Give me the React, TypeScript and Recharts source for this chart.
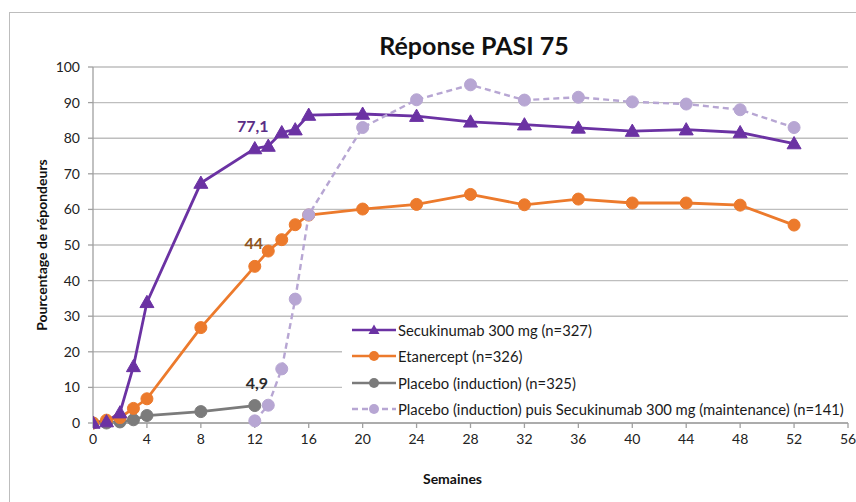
import React from "react";
import {
  LineChart,
  Line,
  XAxis,
  YAxis,
  CartesianGrid,
} from "recharts";

const weeksMain = [0, 1, 2, 3, 4, 8, 12, 13, 14, 15, 16, 20, 24, 28, 32, 36, 40, 44, 48, 52];
const secukinumab = [0, 0.4, 2.9, 15.9, 33.9, 67.4, 77.1, 77.8, 81.6, 82.4, 86.5, 86.8, 86.2, 84.6, 83.8, 82.9, 82.0, 82.4, 81.6, 78.5];
const etanercept = [0, 0.8, 1.5, 4.1, 6.8, 26.8, 44, 48.3, 51.5, 55.7, 58.4, 60.1, 61.4, 64.2, 61.3, 62.9, 61.8, 61.8, 61.2, 55.6];
const weeksPlacebo = [0, 1, 2, 3, 4, 8, 12];
const placebo = [0, 0, 0.3, 0.9, 2.1, 3.2, 4.9];
const weeksMaint = [12, 13, 14, 15, 16, 20, 24, 28, 32, 36, 40, 44, 48, 52];
const maintenance = [0.6, 5, 15.2, 34.8, 58.5, 83, 90.8, 95, 90.7, 91.5, 90.2, 89.6, 88, 83];

const xTicks = [0, 4, 8, 12, 16, 20, 24, 28, 32, 36, 40, 44, 48, 52, 56];
const yTicks = [0, 10, 20, 30, 40, 50, 60, 70, 80, 90, 100];
const labelWeek = 12;

const seriesNames = [
  "Secukinumab 300 mg (n=327)",
  "Etanercept (n=326)",
  "Placebo (induction) (n=325)",
  "Placebo (induction) puis Secukinumab 300 mg (maintenance) (n=141)",
];

const toRows = (weeks: number[], vals: number[]) =>
  weeks.map((w, i) => ({ week: w, value: vals[i] }));

const secuData = toRows(weeksMain, secukinumab);
const etaData = toRows(weeksMain, etanercept);
const placeboData = toRows(weeksPlacebo, placebo);
const maintData = toRows(weeksMaint, maintenance);

const PURPLE = "#6B32A3";
const ORANGE = "#EC7A2C";
const GREY = "#7B7B7B";
const LAVENDER = "#B7A6D3";
const FONT = "Lato, 'Open Sans', sans-serif";

const Triangle = (props: any) => {
  const { cx, cy, fill } = props;
  if (cx == null || cy == null) return null;
  const s = 7;
  return (
    <polygon
      points={`${cx},${cy - s} ${cx - s},${cy + s * 0.75} ${cx + s},${cy + s * 0.75}`}
      fill={fill}
      stroke={fill}
      strokeWidth={1}
    />
  );
};

const makeLabel = (data: { week: number; value: number }[], color: string, dx: number) => (props: any) => {
  const { x, y, index } = props;
  if (data[index] == null || data[index].week !== labelWeek) return null;
  return (
    <text
      x={x + dx}
      y={y - 17}
      textAnchor="middle"
      fill={color}
      fontFamily={FONT}
      fontWeight={700}
      fontSize={16}
    >
      {String(data[index].value).replace(".", ",")}
    </text>
  );
};

const legendItems = [
  { name: seriesNames[0], color: PURPLE, marker: "tri", dash: false },
  { name: seriesNames[1], color: ORANGE, marker: "circle", dash: false },
  { name: seriesNames[2], color: GREY, marker: "circle", dash: false },
  { name: seriesNames[3], color: LAVENDER, marker: "circle", dash: true },
];

const LegendBox = () => (
  <div
    style={{
      position: "absolute",
      left: 342,
      top: 317,
      width: 506,
      height: 101,
      background: "#fff",
    }}
  >
    {legendItems.map((it) => (
      <div
        key={it.name}
        style={{ height: 26.3, display: "flex", alignItems: "center" }}
      >
        <svg width={56} height={26} style={{ display: "block", flex: "none" }}>
          <line
            x1={10}
            x2={54}
            y1={13}
            y2={13}
            stroke={it.color}
            strokeWidth={2.5}
            strokeDasharray={it.dash ? "6 4" : undefined}
          />
          {it.marker === "tri" ? (
            <polygon points="32,7.5 26.5,17 37.5,17" fill={it.color} />
          ) : (
            <circle cx={32} cy={13} r={5} fill={it.color} />
          )}
        </svg>
        <span
          style={{
            fontFamily: FONT,
            fontSize: 14.8,
            color: "#1a1a1a",
            whiteSpace: "nowrap",
          }}
        >
          {it.name}
        </span>
      </div>
    ))}
  </div>
);

export default function App() {
  return (
    <div
      style={{
        position: "absolute",
        left: 0,
        top: 0,
        width: 856,
        height: 502,
        overflow: "hidden",
        background: "#fff",
      }}
    >
      <div
        style={{
          position: "absolute",
          left: 9,
          top: 12,
          width: 900,
          height: 600,
          border: "1.5px solid #BDBDBD",
        }}
      />
      <div style={{ position: "absolute", left: 0, top: 0 }}>
        <LineChart
          width={856}
          height={502}
          margin={{ top: 67, right: 8, bottom: 49, left: 33 }}
        >
          <CartesianGrid
            horizontal={true}
            vertical={false}
            stroke="#BEBEBE"
            strokeWidth={1.4}
          />
          <XAxis
            type="number"
            dataKey="week"
            domain={[0, 56]}
            ticks={xTicks}
            allowDataOverflow
            height={30}
            stroke="#A0A0A0"
            strokeWidth={1.3}
            tickSize={5}
            tick={{ fill: "#222", fontSize: 14, fontFamily: FONT }}
            tickMargin={6}
            label={{
              value: "Semaines",
              position: "insideBottom",
              offset: -31,
              dx: -18,
              style: { fill: "#111", fontWeight: 700, fontSize: 14, fontFamily: FONT },
            }}
          />
          <YAxis
            type="number"
            domain={[0, 100]}
            ticks={yTicks}
            width={60}
            stroke="#A0A0A0"
            strokeWidth={1.3}
            tickSize={5}
            tickMargin={8}
            tick={{ fill: "#222", fontSize: 14, fontFamily: FONT }}
            label={{
              value: "Pourcentage de répondeurs",
              angle: -90,
              position: "insideLeft",
              dx: 4,
              dy: 0,
              style: {
                fill: "#111",
                fontWeight: 700,
                fontSize: 14,
                fontFamily: FONT,
                textAnchor: "middle",
              },
            }}
          />
          <Line
            data={placeboData}
            dataKey="value"
            name={seriesNames[2]}
            stroke={GREY}
            strokeWidth={2.8}
            dot={{ r: 6, fill: GREY, stroke: GREY, strokeWidth: 1 }}
            label={makeLabel(placeboData, "#2b2b2b", 2)}
            isAnimationActive={false}
          />
          <Line
            data={etaData}
            dataKey="value"
            name={seriesNames[1]}
            stroke={ORANGE}
            strokeWidth={2.8}
            dot={{ r: 6, fill: ORANGE, stroke: ORANGE, strokeWidth: 1 }}
            label={makeLabel(etaData, "#8E5520", -1)}
            isAnimationActive={false}
          />
          <Line
            data={secuData}
            dataKey="value"
            name={seriesNames[0]}
            stroke={PURPLE}
            strokeWidth={2.8}
            dot={<Triangle fill={PURPLE} />}
            label={makeLabel(secuData, "#5A2D86", -2)}
            isAnimationActive={false}
          />
          <Line
            data={maintData}
            dataKey="value"
            name={seriesNames[3]}
            stroke={LAVENDER}
            strokeWidth={2.4}
            strokeDasharray="6 4"
            dot={{ r: 6, fill: LAVENDER, stroke: LAVENDER, strokeWidth: 1, strokeDasharray: "" }}
            isAnimationActive={false}
          />
        </LineChart>
      </div>
      <LegendBox />
      <div
        style={{
          position: "absolute",
          left: 0,
          top: 30,
          width: 856,
          textAlign: "center",
          paddingLeft: 92,
          boxSizing: "border-box",
          fontFamily: FONT,
          fontWeight: 700,
          fontSize: 25,
          color: "#111",
        }}
      >
        Réponse PASI 75
      </div>
    </div>
  );
}
